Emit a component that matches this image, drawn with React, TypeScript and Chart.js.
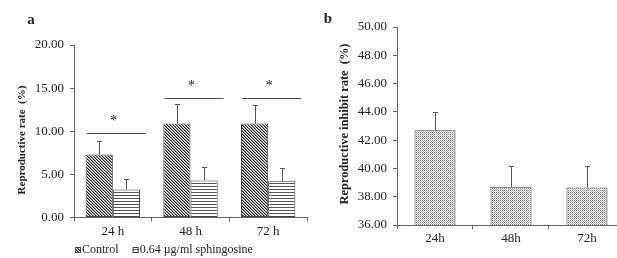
import React, { useEffect, useRef } from "react";
import { Chart, registerables } from "chart.js";
Chart.register(...registerables);

// ---- Data: panel a ----
const categoriesA = ["24 h", "48 h", "72 h"];
const controlValues = [7.3, 10.9, 10.9];
const controlErrors = [1.6, 2.25, 2.2];
const sphingosineValues = [3.25, 4.3, 4.25];
const sphingosineErrors = [1.25, 1.5, 1.45];
const significanceLevels = [9.8, 13.9, 13.9];
const significanceMarks = ["*", "*", "*"];
const seriesNamesA = ["Control", "0.64 \u00b5g/ml sphingosine"];
const yLabelA = "Reproductive rate  (%)";

// ---- Data: panel b ----
const categoriesB = ["24h", "48h", "72h"];
const inhibitValues = [42.7, 38.7, 38.65];
const inhibitErrors = [1.3, 1.5, 1.5];
const yLabelB = "Reproductive inhibit rate  (%)";

const FONT = "'Liberation Serif', 'Times New Roman', serif";
const TEXT = "#222";
const AXIS = "#666";
const EDGE = "#444";

function makePattern(kind: string): CanvasPattern | string {
  const c = document.createElement("canvas");
  const ctx = c.getContext("2d");
  if (!ctx) return "#999";
  if (kind === "diag") {
    c.width = 3; c.height = 3;
    ctx.fillStyle = "#fff"; ctx.fillRect(0, 0, 3, 3);
    for (let i = 0; i < 3; i++) {
      ctx.fillStyle = "#222";
      ctx.fillRect(i, i, 1, 1);
      ctx.fillStyle = "#999";
      ctx.fillRect((i + 1) % 3, i, 1, 1);
    }
  } else if (kind === "horiz") {
    c.width = 3; c.height = 3;
    ctx.fillStyle = "#fff"; ctx.fillRect(0, 0, 3, 3);
    ctx.fillStyle = "#555"; ctx.fillRect(0, 0, 3, 1);
  } else {
    c.width = 2; c.height = 2;
    ctx.fillStyle = "#fff"; ctx.fillRect(0, 0, 2, 2);
    ctx.fillStyle = "#7a7a7a"; ctx.fillRect(0, 0, 1, 1);
    ctx.fillStyle = "#bdbdbd"; ctx.fillRect(1, 1, 1, 1);
  }
  return ctx.createPattern(c, "repeat") || "#999";
}

function drawErrorBar(ctx: CanvasRenderingContext2D, x: number, yBar: number, yTop: number) {
  ctx.save();
  ctx.strokeStyle = "#555";
  ctx.lineWidth = 1;
  ctx.beginPath();
  ctx.moveTo(Math.round(x) + 0.5, yBar);
  ctx.lineTo(Math.round(x) + 0.5, Math.round(yTop) + 0.5);
  ctx.moveTo(Math.round(x) - 2, Math.round(yTop) + 0.5);
  ctx.lineTo(Math.round(x) + 3, Math.round(yTop) + 0.5);
  ctx.stroke();
  ctx.restore();
}

function drawYTitle(ctx: CanvasRenderingContext2D, text: string, cx: number, cy: number, size: number) {
  ctx.save();
  ctx.translate(cx, cy);
  ctx.rotate(-Math.PI / 2);
  ctx.font = `bold ${size}px ${FONT}`;
  ctx.fillStyle = TEXT;
  ctx.textAlign = "center";
  ctx.textBaseline = "middle";
  ctx.fillText(text, 0, 0);
  ctx.restore();
}

function drawLetter(ctx: CanvasRenderingContext2D, t: string, x: number, y: number) {
  ctx.save();
  ctx.font = `bold 15px ${FONT}`;
  ctx.fillStyle = TEXT;
  ctx.textAlign = "center";
  ctx.textBaseline = "middle";
  ctx.fillText(t, x, y);
  ctx.restore();
}

export default function App() {
  const refA = useRef<HTMLCanvasElement | null>(null);
  const refB = useRef<HTMLCanvasElement | null>(null);

  useEffect(() => {
    Chart.defaults.font.family = FONT;
    const diag = makePattern("diag");
    const horiz = makePattern("horiz");
    const dots = makePattern("dots");
    const fills = [diag, horiz];

    const pluginA = {
      id: "annotA",
      afterDatasetsDraw(chart: any) {
        const ctx = chart.ctx as CanvasRenderingContext2D;
        const xs = chart.scales.x;
        const ys = chart.scales.y;
        const sets: [number[], number[]][] = [
          [controlValues, controlErrors],
          [sphingosineValues, sphingosineErrors],
        ];
        sets.forEach(([vals, errs], di) => {
          const meta = chart.getDatasetMeta(di);
          meta.data.forEach((bar: any, i: number) => {
            drawErrorBar(ctx, bar.x, bar.y, ys.getPixelForValue(vals[i] + errs[i]));
          });
        });
        categoriesA.forEach((_c, i) => {
          const cx = xs.getPixelForValue(i);
          const ly = Math.round(ys.getPixelForValue(significanceLevels[i])) + 0.5;
          ctx.save();
          ctx.strokeStyle = "#555";
          ctx.lineWidth = 1;
          ctx.beginPath();
          ctx.moveTo(cx - 26, ly);
          ctx.lineTo(cx + 33, ly);
          ctx.stroke();
          ctx.font = `14px ${FONT}`;
          ctx.fillStyle = TEXT;
          ctx.textAlign = "center";
          ctx.textBaseline = "alphabetic";
          ctx.fillText(significanceMarks[i], cx + 1, ly - 9);
          ctx.restore();
        });
      },
      afterDraw(chart: any) {
        const ctx = chart.ctx as CanvasRenderingContext2D;
        drawYTitle(ctx, yLabelA, 22, 140, 11);
        drawLetter(ctx, "a", 31, 20);
        // legend
        ctx.save();
        ctx.font = `12px ${FONT}`;
        ctx.fillStyle = TEXT;
        ctx.textBaseline = "middle";
        let x = 75;
        const y = 250;
        seriesNamesA.forEach((name, i) => {
          ctx.fillStyle = fills[i] as any;
          ctx.fillRect(x, y - 3, 6, 6);
          ctx.strokeStyle = EDGE;
          ctx.lineWidth = 1;
          ctx.strokeRect(x + 0.5, y - 2.5, 5, 5);
          ctx.fillStyle = TEXT;
          ctx.fillText(name, x + 7, y);
          x += 7 + ctx.measureText(name).width + 14;
        });
        ctx.restore();
      },
    };

    const chartA = new Chart(refA.current as HTMLCanvasElement, {
      type: "bar",
      data: {
        labels: categoriesA,
        datasets: [
          {
            label: seriesNamesA[0],
            data: controlValues,
            backgroundColor: diag as any,
            borderColor: EDGE,
            borderWidth: 1,
            borderSkipped: false,
          },
          {
            label: seriesNamesA[1],
            data: sphingosineValues,
            backgroundColor: horiz as any,
            borderColor: EDGE,
            borderWidth: 1,
            borderSkipped: false,
          },
        ],
      },
      options: {
        responsive: false,
        animation: false,
        events: [],
        layout: { padding: { top: 45, left: 0, right: 3, bottom: 20.5 } },
        datasets: { bar: { categoryPercentage: 0.7, barPercentage: 1 } },
        plugins: { legend: { display: false }, tooltip: { enabled: false } },
        scales: {
          x: {
            offset: true,
            afterFit: (s: any) => { s.height = 20; },
            grid: { display: true, drawOnChartArea: false, drawTicks: true, tickLength: 4, color: AXIS, offset: true },
            border: { display: true, color: AXIS, width: 1 },
            ticks: { color: TEXT, font: { size: 13, family: FONT }, padding: 2 },
          },
          y: {
            min: 0,
            max: 20,
            afterFit: (s: any) => { s.width = 74; },
            grid: { display: true, drawOnChartArea: false, drawTicks: true, tickLength: 4, color: AXIS },
            border: { display: true, color: AXIS, width: 1 },
            ticks: {
              stepSize: 5,
              color: TEXT,
              font: { size: 13, family: FONT },
              padding: 6,
              callback: (v: any) => Number(v).toFixed(2),
            },
          },
        },
      },
      plugins: [pluginA],
    } as any);

    const pluginB = {
      id: "annotB",
      afterDatasetsDraw(chart: any) {
        const ctx = chart.ctx as CanvasRenderingContext2D;
        const ys = chart.scales.y;
        const meta = chart.getDatasetMeta(0);
        meta.data.forEach((bar: any, i: number) => {
          drawErrorBar(ctx, bar.x, bar.y, ys.getPixelForValue(inhibitValues[i] + inhibitErrors[i]));
        });
      },
      afterDraw(chart: any) {
        const ctx = chart.ctx as CanvasRenderingContext2D;
        drawYTitle(ctx, yLabelB, 35, 124, 12.4);
        drawLetter(ctx, "b", 18, 19);
      },
    };

    const chartB = new Chart(refB.current as HTMLCanvasElement, {
      type: "bar",
      data: {
        labels: categoriesB,
        datasets: [
          {
            label: "Inhibit rate",
            data: inhibitValues,
            backgroundColor: dots as any,
            borderColor: EDGE,
            borderWidth: 1,
            borderSkipped: false,
          },
        ],
      },
      options: {
        responsive: false,
        animation: false,
        events: [],
        layout: { padding: { top: 27, left: 0, right: 0, bottom: 13 } },
        datasets: { bar: { categoryPercentage: 0.54, barPercentage: 1 } },
        plugins: { legend: { display: false }, tooltip: { enabled: false } },
        scales: {
          x: {
            offset: true,
            afterFit: (s: any) => { s.height = 20; },
            // the axis runs on past the image's right edge: show ~2.9 of the 3 category slots
            afterBuildTicks: (s: any) => { s._valueRange = 2.895; },
            grid: { display: true, drawOnChartArea: false, drawTicks: true, tickLength: 4, color: AXIS, offset: true },
            border: { display: true, color: AXIS, width: 1 },
            ticks: { color: TEXT, font: { size: 13, family: FONT }, padding: 2 },
          },
          y: {
            min: 36,
            max: 50,
            afterFit: (s: any) => { s.width = 87; },
            grid: { display: true, drawOnChartArea: false, drawTicks: true, tickLength: 4, color: AXIS },
            border: { display: true, color: AXIS, width: 1 },
            ticks: {
              stepSize: 2,
              color: TEXT,
              font: { size: 13, family: FONT },
              padding: 6,
              callback: (v: any) => Number(v).toFixed(2),
            },
          },
        },
      },
      plugins: [pluginB],
    } as any);

    return () => {
      chartA.destroy();
      chartB.destroy();
    };
  }, []);

  return (
    <div
      style={{
        position: "absolute",
        left: 0,
        top: 0,
        width: 617,
        height: 258,
        overflow: "hidden",
        background: "#fff",
      }}
    >
      <canvas ref={refA} width={310} height={258} style={{ position: "absolute", left: 0, top: 0, width: 310, height: 258 }} />
      <canvas ref={refB} width={307} height={258} style={{ position: "absolute", left: 310, top: 0, width: 307, height: 258 }} />
    </div>
  );
}
